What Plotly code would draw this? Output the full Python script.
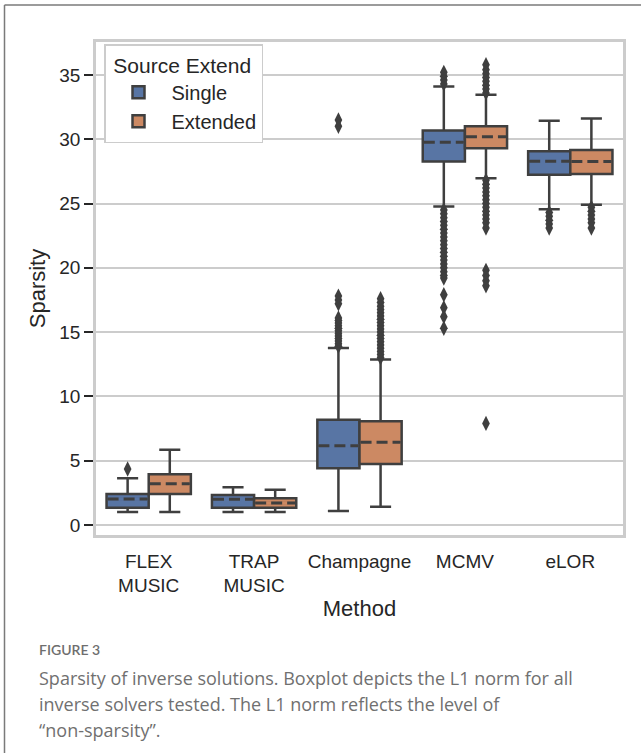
import plotly.graph_objects as go

# ---------------- data ----------------
methods = ["FLEX<br>MUSIC", "TRAP<br>MUSIC", "Champagne", "MCMV", "eLOR"]
hues = ["Single", "Extended"]

single_q1 = [1.34, 1.34, 4.41, 28.26, 27.23]
single_med = [2.02, 2.00, 6.17, 29.76, 28.28]
single_q3 = [2.41, 2.33, 8.19, 30.67, 29.06]
single_lo = [1.01, 1.01, 1.09, 24.77, 24.56]
single_hi = [3.63, 2.93, 13.77, 34.10, 31.44]

ext_q1 = [2.41, 1.34, 4.74, 29.30, 27.30]
ext_med = [3.21, 1.71, 6.43, 30.20, 28.26]
ext_q3 = [3.94, 2.07, 8.06, 31.00, 29.17]
ext_lo = [1.01, 1.01, 1.42, 26.97, 24.90]
ext_hi = [5.85, 2.74, 12.86, 33.46, 31.62]

single_out = [
    [4.35],
    [],
    [13.9, 14.1, 14.3, 14.5, 14.7, 14.9, 15.1, 15.3, 15.5, 15.7, 15.9, 16.1,
     17.2, 17.5, 17.8, 31.0, 31.5],
    [34.3, 34.6, 34.9, 35.2,
     24.5, 24.2, 23.9, 23.6, 23.3, 23.0, 22.7, 22.4, 22.1, 21.8, 21.5, 21.2,
     20.9, 20.6, 20.3, 20.0, 19.7, 19.4, 19.2, 17.9, 16.9, 16.2, 15.3],
    [24.3, 24.0, 23.7, 23.4, 23.1],
]
ext_out = [
    [],
    [],
    [13.0, 13.25, 13.5, 13.75, 14.0, 14.25, 14.5, 14.75, 15.0, 15.25, 15.5,
     15.75, 16.0, 16.25, 16.5, 16.75, 17.0, 17.3, 17.6],
    [33.6, 33.9, 34.2, 34.5, 34.8, 35.1, 35.4, 35.8,
     26.8, 26.5, 26.2, 25.9, 25.6, 25.3, 25.0, 24.7, 24.4, 24.1, 23.8, 23.5,
     23.1, 19.8, 19.4, 19.0, 18.6, 7.9],
    [24.7, 24.4, 24.1, 23.8, 23.5, 23.1],
]

y_ticks = [0, 5, 10, 15, 20, 25, 30, 35]

caption_title = "FIGURE 3"
caption_lines = [
    "Sparsity of inverse solutions. Boxplot depicts the L1 norm for all",
    "inverse solvers tested. The L1 norm reflects the level of",
    "\u201cnon-sparsity\u201d.",
]

# ---------------- style ----------------
colors = {"Single": "#5875a4", "Extended": "#cc8963"}
edge = "#3f3f3f"
box_w = 0.4
offsets = {"Single": -0.2, "Extended": 0.2}
FONT = "Liberation Sans, Arial, sans-serif"

stats = {
    "Single": (single_q1, single_med, single_q3, single_lo, single_hi, single_out),
    "Extended": (ext_q1, ext_med, ext_q3, ext_lo, ext_hi, ext_out),
}

fig = go.Figure()
cat_idx = list(range(len(methods)))

for h in hues:
    q1, med, q3, lo, hi, outs = stats[h]
    xs = [i + offsets[h] for i in cat_idx]
    fig.add_trace(go.Box(
        x=xs, q1=q1, median=med, q3=q3, lowerfence=lo, upperfence=hi,
        width=box_w, whiskerwidth=0.5, boxpoints=False,
        fillcolor=colors[h], line=dict(color=edge, width=2.5),
        name=h, showlegend=True, hoverinfo="skip",
    ))

# dashed medians (cover solid median with fill colour, then dash)
for h in hues:
    q1, med, q3, lo, hi, outs = stats[h]
    for i in cat_idx:
        cx = i + offsets[h]
        x0, x1 = cx - box_w / 2 + 0.012, cx + box_w / 2 - 0.012
        fig.add_trace(go.Scatter(
            x=[x0, x1], y=[med[i], med[i]], mode="lines",
            line=dict(color=colors[h], width=3.5), showlegend=False,
            hoverinfo="skip"))
        fig.add_trace(go.Scatter(
            x=[cx - box_w / 2 + 0.01, cx + box_w / 2 - 0.01],
            y=[med[i], med[i]], mode="lines",
            line=dict(color=edge, width=3, dash="11px,5px"), showlegend=False,
            hoverinfo="skip"))

# outliers
for h in hues:
    outs = stats[h][5]
    ox, oy = [], []
    for i in cat_idx:
        for v in outs[i]:
            ox.append(i + offsets[h])
            oy.append(v)
    fig.add_trace(go.Scatter(
        x=ox, y=oy, mode="markers",
        marker=dict(symbol="diamond-tall", size=11, color=edge,
                    line=dict(width=0)),
        showlegend=False, hoverinfo="skip"))

# ---------------- layout ----------------
L, R, T, B = 96, 18, 42, 218
W, H = 641, 753
pw, ph = W - L - R, H - T - B


def px(xp):
    return (xp - L) / pw


def py(yp):
    return 1 - (yp - T) / ph


fig.update_layout(
    width=W, height=H,
    margin=dict(l=L, r=R, t=T, b=B),
    paper_bgcolor="white", plot_bgcolor="white",
    font=dict(family=FONT, color="#262626"),
    showlegend=True,
    legend=dict(
        title=dict(text=" Source Extend", font=dict(size=21, color="#262626")),
        font=dict(size=20, color="#262626"),
        x=px(104), y=py(44), xanchor="left", yanchor="top",
        bgcolor="white", bordercolor="#cccccc", borderwidth=1.5,
        itemwidth=56, tracegroupgap=4,
    ),
    xaxis=dict(
        range=[-0.5, 4.5], tickmode="array", tickvals=cat_idx, ticktext=methods,
        showgrid=False, zeroline=False, showline=True, mirror=True,
        linecolor="#cccccc", linewidth=2.5,
        ticks="outside", ticklen=7, tickcolor="rgba(0,0,0,0)",
        tickfont=dict(size=19, color="#262626"),
        title=dict(text="Method", font=dict(size=22, color="#262626"), standoff=6),
        automargin=False,
    ),
    yaxis=dict(
        range=[-0.78, 37.56], tickmode="array", tickvals=y_ticks,
        showgrid=True, gridcolor="#cccccc", gridwidth=1.8,
        zeroline=False, showline=True, mirror=True,
        linecolor="#cccccc", linewidth=2.5,
        ticks="outside", ticklen=9, tickwidth=2, tickcolor="#262626",
        tickfont=dict(size=19, color="#262626"),
        title=dict(text="Sparsity", font=dict(size=22, color="#262626"), standoff=8),
        automargin=False,
    ),
)

# outer figure frame (top and left edges visible)
fig.add_shape(type="line", xref="paper", yref="paper",
              x0=px(4.5), x1=px(660), y0=py(5), y1=py(5),
              line=dict(color="#7a7a7a", width=1.5))
fig.add_shape(type="line", xref="paper", yref="paper",
              x0=px(4.5), x1=px(4.5), y0=py(5), y1=py(770),
              line=dict(color="#7a7a7a", width=1.5))

# caption
CAP_FONT = "Open Sans, Lato, sans-serif"
fig.add_annotation(xref="paper", yref="paper", x=px(37), y=py(649),
                   xanchor="left", yanchor="middle", showarrow=False,
                   text=caption_title,
                   font=dict(family="Lato, sans-serif", size=14, color="#6e6e6e", weight=600))
for k, line in enumerate(caption_lines):
    fig.add_annotation(xref="paper", yref="paper", x=px(37), y=py(678 + 26 * k),
                       xanchor="left", yanchor="middle", showarrow=False,
                       text=line,
                       font=dict(family=CAP_FONT, size=18, color="#707070"))

fig.write_html("out.html")
